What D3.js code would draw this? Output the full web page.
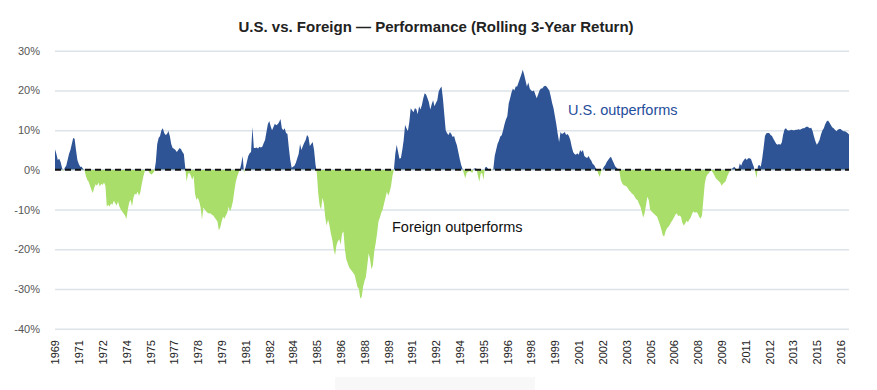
<!DOCTYPE html>
<html>
<head>
<meta charset="utf-8">
<script src="https://cdn.jsdelivr.net/npm/d3@7/dist/d3.min.js"></script>
<style>
  body { margin: 0; background: #fff; }
  text { font-family: "Liberation Sans", Arial, sans-serif; }
</style>
</head>
<body>
<svg id="chart" width="877" height="390"></svg>
<script>
// x labels, one every 17 months starting Dec 1969
var tickLabels = ["1969","1971","1972","1974","1975","1977","1978","1979","1981","1982",
  "1984","1985","1986","1988","1989","1991","1992","1994","1995","1996","1998","1999",
  "2001","2002","2003","2005","2006","2008","2009","2011","2012","2013","2015","2016"];
var tickEvery = 17;

var yTicks = [30, 20, 10, 0, -10, -20, -30, -40];

// rolling 3-year return, U.S. minus foreign (%), monthly
var values = [
  5.2, 4, 2.5, 2.8, 2, 0.5, -0.3, 0.5, 1, 2.5,
  4, 5, 6.5, 8, 7.8, 5, 2.5, 1.5, 0.8, 0.8,
  0.3, 0, -1.5, -2.5, -3, -4, -5, -5.8, -4.5, -3.6,
  -4, -3.2, -4.2, -3.5, -3.8, -3.2, -4, -9.3, -8.8, -9.2,
  -8.5, -8.8, -7.8, -8.4, -9, -8, -9.2, -10, -10.5, -11,
  -11.5, -12.4, -10, -8.2, -7.5, -9.2, -7, -6, -6.2, -5.5,
  -6.5, -5.6, -3.5, -1.8, -0.5, 0.2, 0.3, -0.5, -1, -1.2,
  -0.8, -0.3, 2, 6.5, 8, 8.5, 10, 10.5, 9.3, 8.8,
  9, 9.8, 8.5, 6.5, 5.5, 5.3, 5, 4.5, 5, 5.5,
  5.2, 4.5, 4, 0.5, -3, -1, -0.8, -1.5, -2.5, -1.5,
  -6, -7.5, -7, -8, -9.5, -12.5, -9.5, -10, -10.5, -10.8,
  -11, -10.9, -11.3, -11.5, -12, -12.5, -13, -15.2, -14.5, -13,
  -11.8, -12.3, -11.5, -10.8, -9.3, -10.5, -9.5, -8, -5.5, -3.2,
  -1.8, -0.8, 0, 1.5, 3.5, -0.8, 0.5, 2, 3.5, 4.2,
  4.5, 10.8, 5.5, 5.5, 5.6, 5.4, 5.8, 5.6, 5.8, 6.7,
  7.5, 9.5, 11.5, 12.3, 11, 10, 10.8, 11.6, 11.2, 11.5,
  12, 12.8, 10.5, 10, 10.5, 9.3, 9, 5.5, 2.5, 0.5,
  0.8, 1, 1.8, 2.9, 4, 6.5, 5, 6, 6.8, 7.5,
  8.8, 8.3, 6, 6.5, 7, 5, 1.5, -1, -6, -9,
  -10, -7, -8.5, -12, -14, -12.5, -14, -16, -17.6, -20,
  -21.5, -19, -18, -17.5, -18.8, -16, -15.5, -20, -22.5, -23.5,
  -24.5, -25, -25.5, -26, -26.5, -28, -29.5, -30, -32.4, -32,
  -29.5, -28, -27, -24, -21, -22.5, -25, -24, -20.5, -18.5,
  -16, -13, -12, -10.8, -10, -8.5, -7, -5.5, -6.5, -5.5,
  -4, -1.5, 0, 4, 6.3, 4.5, 2.8, 3, 5, 7.5,
  11.3, 10.5, 9.8, 12, 15.5, 15, 14.5, 15.5, 15.3, 14,
  16, 15.2, 16.3, 18, 19.3, 19, 18, 17, 15.2, 16.5,
  17.5, 16, 16.8, 17.5, 19.7, 20.5, 21, 18, 14, 10,
  9.2, 8.8, 9.5, 9, 8.3, 8.5, 7.2, 6.2, 4.5, 2.8,
  1.3, 0.3, -1, -2.1, -0.8, -0.5, -0.3, -0.5, -0.8, 0.3,
  0.4, 0.3, -1.5, -3, -1, -0.8, -2.5, 0.5, 0.8, 0.4,
  -0.3, -0.2, 0, 0.2, 3.5, 5, 6.5, 7.3, 8.4, 8.7,
  10, 11.5, 12.7, 13.5, 16.7, 18, 19.5, 20.5, 20, 21,
  21, 22, 23, 24, 25.2, 24, 22.5, 21, 22, 20.5,
  20, 19.8, 20, 19, 18, 19, 20, 20.5, 20.5, 21,
  21.2, 21, 20.5, 20, 18.5, 16.8, 15.5, 13.5, 11.5, 9,
  7, 9.5, 9, 9.2, 9.5, 8.8, 9, 8.5, 7.5, 5.8,
  4.5, 4, 3.8, 4.2, 3.8, 5, 4.5, 5, 3.5, 3.2,
  3, 3.5, 2.8, 2.3, 1.5, 1.2, 0.5, 0, -1, -1.8,
  -0.3, 0.1, 0.8, 1.2, 2, 2.5, 3, 3.3, 2.5, 1.7,
  0.9, 0.5, 0.2, -0.3, -2.5, -3.4, -3.8, -4, -4.1, -4.6,
  -5.2, -5.5, -6, -6.2, -6.8, -7.4, -7.6, -8.5, -9.2, -10.5,
  -12, -11, -9, -6.8, -7.6, -10, -10.5, -10.8, -11.2, -11.5,
  -11.8, -12.8, -13.8, -15, -16.5, -16.8, -15.5, -14.7, -14.4, -13.8,
  -13.2, -12.6, -12, -11.3, -10.9, -11.6, -11.5, -11.8, -13.3, -14,
  -13.5, -12.8, -13.2, -12.5, -12, -11, -10.5, -10.8, -10.6, -11,
  -11.8, -12.3, -11.5, -7.5, -3.5, -1.8, -1.2, -0.8, -0.2, -0.3,
  -0.8, -1.5, -2.2, -2.5, -2.9, -3.2, -4, -3.5, -3.2, -2.8,
  -1.7, -0.9, -0.2, 0.3, 0.4, 0.8, 0.4, -0.3, 0.1, 1.6,
  1, 2, 2.5, 2.9, 2.5, 2.9, 2.9, 2.7, 1.7, 0.8,
  -0.5, -2.1, 1, 1.2, 0.8, 2.8, 5.5, 8.5, 9.2, 9.3,
  9.3, 8.8, 8.5, 7.8, 7.2, 6.6, 6.3, 6.5, 6.3, 6.9,
  8.9, 10.2, 10.5, 10, 9.9, 10, 10.1, 10, 10, 10.1,
  10.1, 10.2, 10.1, 10.3, 10.5, 10.5, 10.7, 10.9, 10.7, 10.5,
  10.6, 9.8, 8.4, 7.2, 6.3, 6.8, 7.6, 8.9, 9.9, 10.5,
  11.5, 12.2, 12.4, 11.9, 11.3, 10.7, 10.5, 10.1, 9.7, 10.1,
  10.3, 10.3, 10, 9.7, 9.7, 9.5, 9.3, 8.9
];

var BLUE = "#2e5496";
var GREEN = "#a9de6b";

var svg = d3.select("#chart");
var plotLeft = 55, plotRight = 849, plotTop = 50.7, plotBottom = 328.7;

var x = d3.scaleLinear().domain([0, values.length - 1]).range([plotLeft, plotRight]);
var y = d3.scaleLinear().domain([-40, 30]).range([plotBottom, plotTop]);

// faint box under the axis
svg.append("rect").attr("x", 335).attr("y", 377).attr("width", 200).attr("height", 13)
  .attr("fill", "#f8f8f8");

// title
svg.append("text")
  .attr("x", 436).attr("y", 32)
  .attr("text-anchor", "middle")
  .attr("font-size", 15).attr("font-weight", "bold").attr("fill", "#222")
  .text("U.S. vs. Foreign \u2014 Performance (Rolling 3-Year Return)");

// gridlines + y labels
var yAxis = d3.axisLeft(y).tickValues(yTicks).tickSize(-(plotRight - plotLeft))
  .tickFormat(function(d) { return d + "%"; });
var gy = svg.append("g").attr("transform", "translate(" + plotLeft + ",0)").call(yAxis);
gy.select(".domain").remove();
gy.selectAll(".tick line").attr("stroke", "#dde3ea").attr("stroke-width", 1.5);
gy.selectAll(".tick text").attr("x", -15).attr("font-size", 11).attr("fill", "#555")
  .attr("font-family", "'Liberation Sans Narrow', 'Liberation Sans', Arial, sans-serif");

// areas, split at zero with clip paths
var defs = svg.append("defs");
defs.append("clipPath").attr("id", "clipUp").append("rect")
  .attr("x", plotLeft).attr("y", 0).attr("width", plotRight - plotLeft).attr("height", y(0));
defs.append("clipPath").attr("id", "clipDown").append("rect")
  .attr("x", plotLeft).attr("y", y(0)).attr("width", plotRight - plotLeft).attr("height", 390 - y(0));

var area = d3.area()
  .x(function(d, i) { return x(i); })
  .y0(y(0))
  .y1(function(d) { return y(d); });

svg.append("path").datum(values).attr("d", area).attr("fill", BLUE).attr("clip-path", "url(#clipUp)");
svg.append("path").datum(values).attr("d", area).attr("fill", GREEN).attr("clip-path", "url(#clipDown)");

// zero line
svg.append("line").attr("x1", plotLeft).attr("x2", plotRight).attr("y1", y(0)).attr("y2", y(0))
  .attr("stroke", "#111").attr("stroke-width", 2).attr("stroke-dasharray", "6,4");

// x axis labels (rotated)
var xAxis = d3.axisBottom(x)
  .tickValues(d3.range(tickLabels.length).map(function(i) { return i * tickEvery; }))
  .tickSize(0)
  .tickFormat(function(d, i) { return tickLabels[i]; });
var gx = svg.append("g").attr("transform", "translate(0," + 340 + ")").call(xAxis);
gx.select(".domain").remove();
gx.selectAll(".tick text")
  .attr("transform", "rotate(-90)")
  .attr("x", 0).attr("y", 0).attr("dy", "0.35em")
  .attr("text-anchor", "end")
  .attr("font-size", 11).attr("fill", "#222")
  .attr("font-family", "'Liberation Sans Narrow', 'Liberation Sans', Arial, sans-serif");

// annotations
svg.append("text").attr("x", 568).attr("y", 115).attr("font-size", 14.5)
  .attr("fill", "#1f4e9c").text("U.S. outperforms");
svg.append("text").attr("x", 392).attr("y", 232).attr("font-size", 14.5)
  .attr("fill", "#111").text("Foreign outperforms");
</script>
</body>
</html>
